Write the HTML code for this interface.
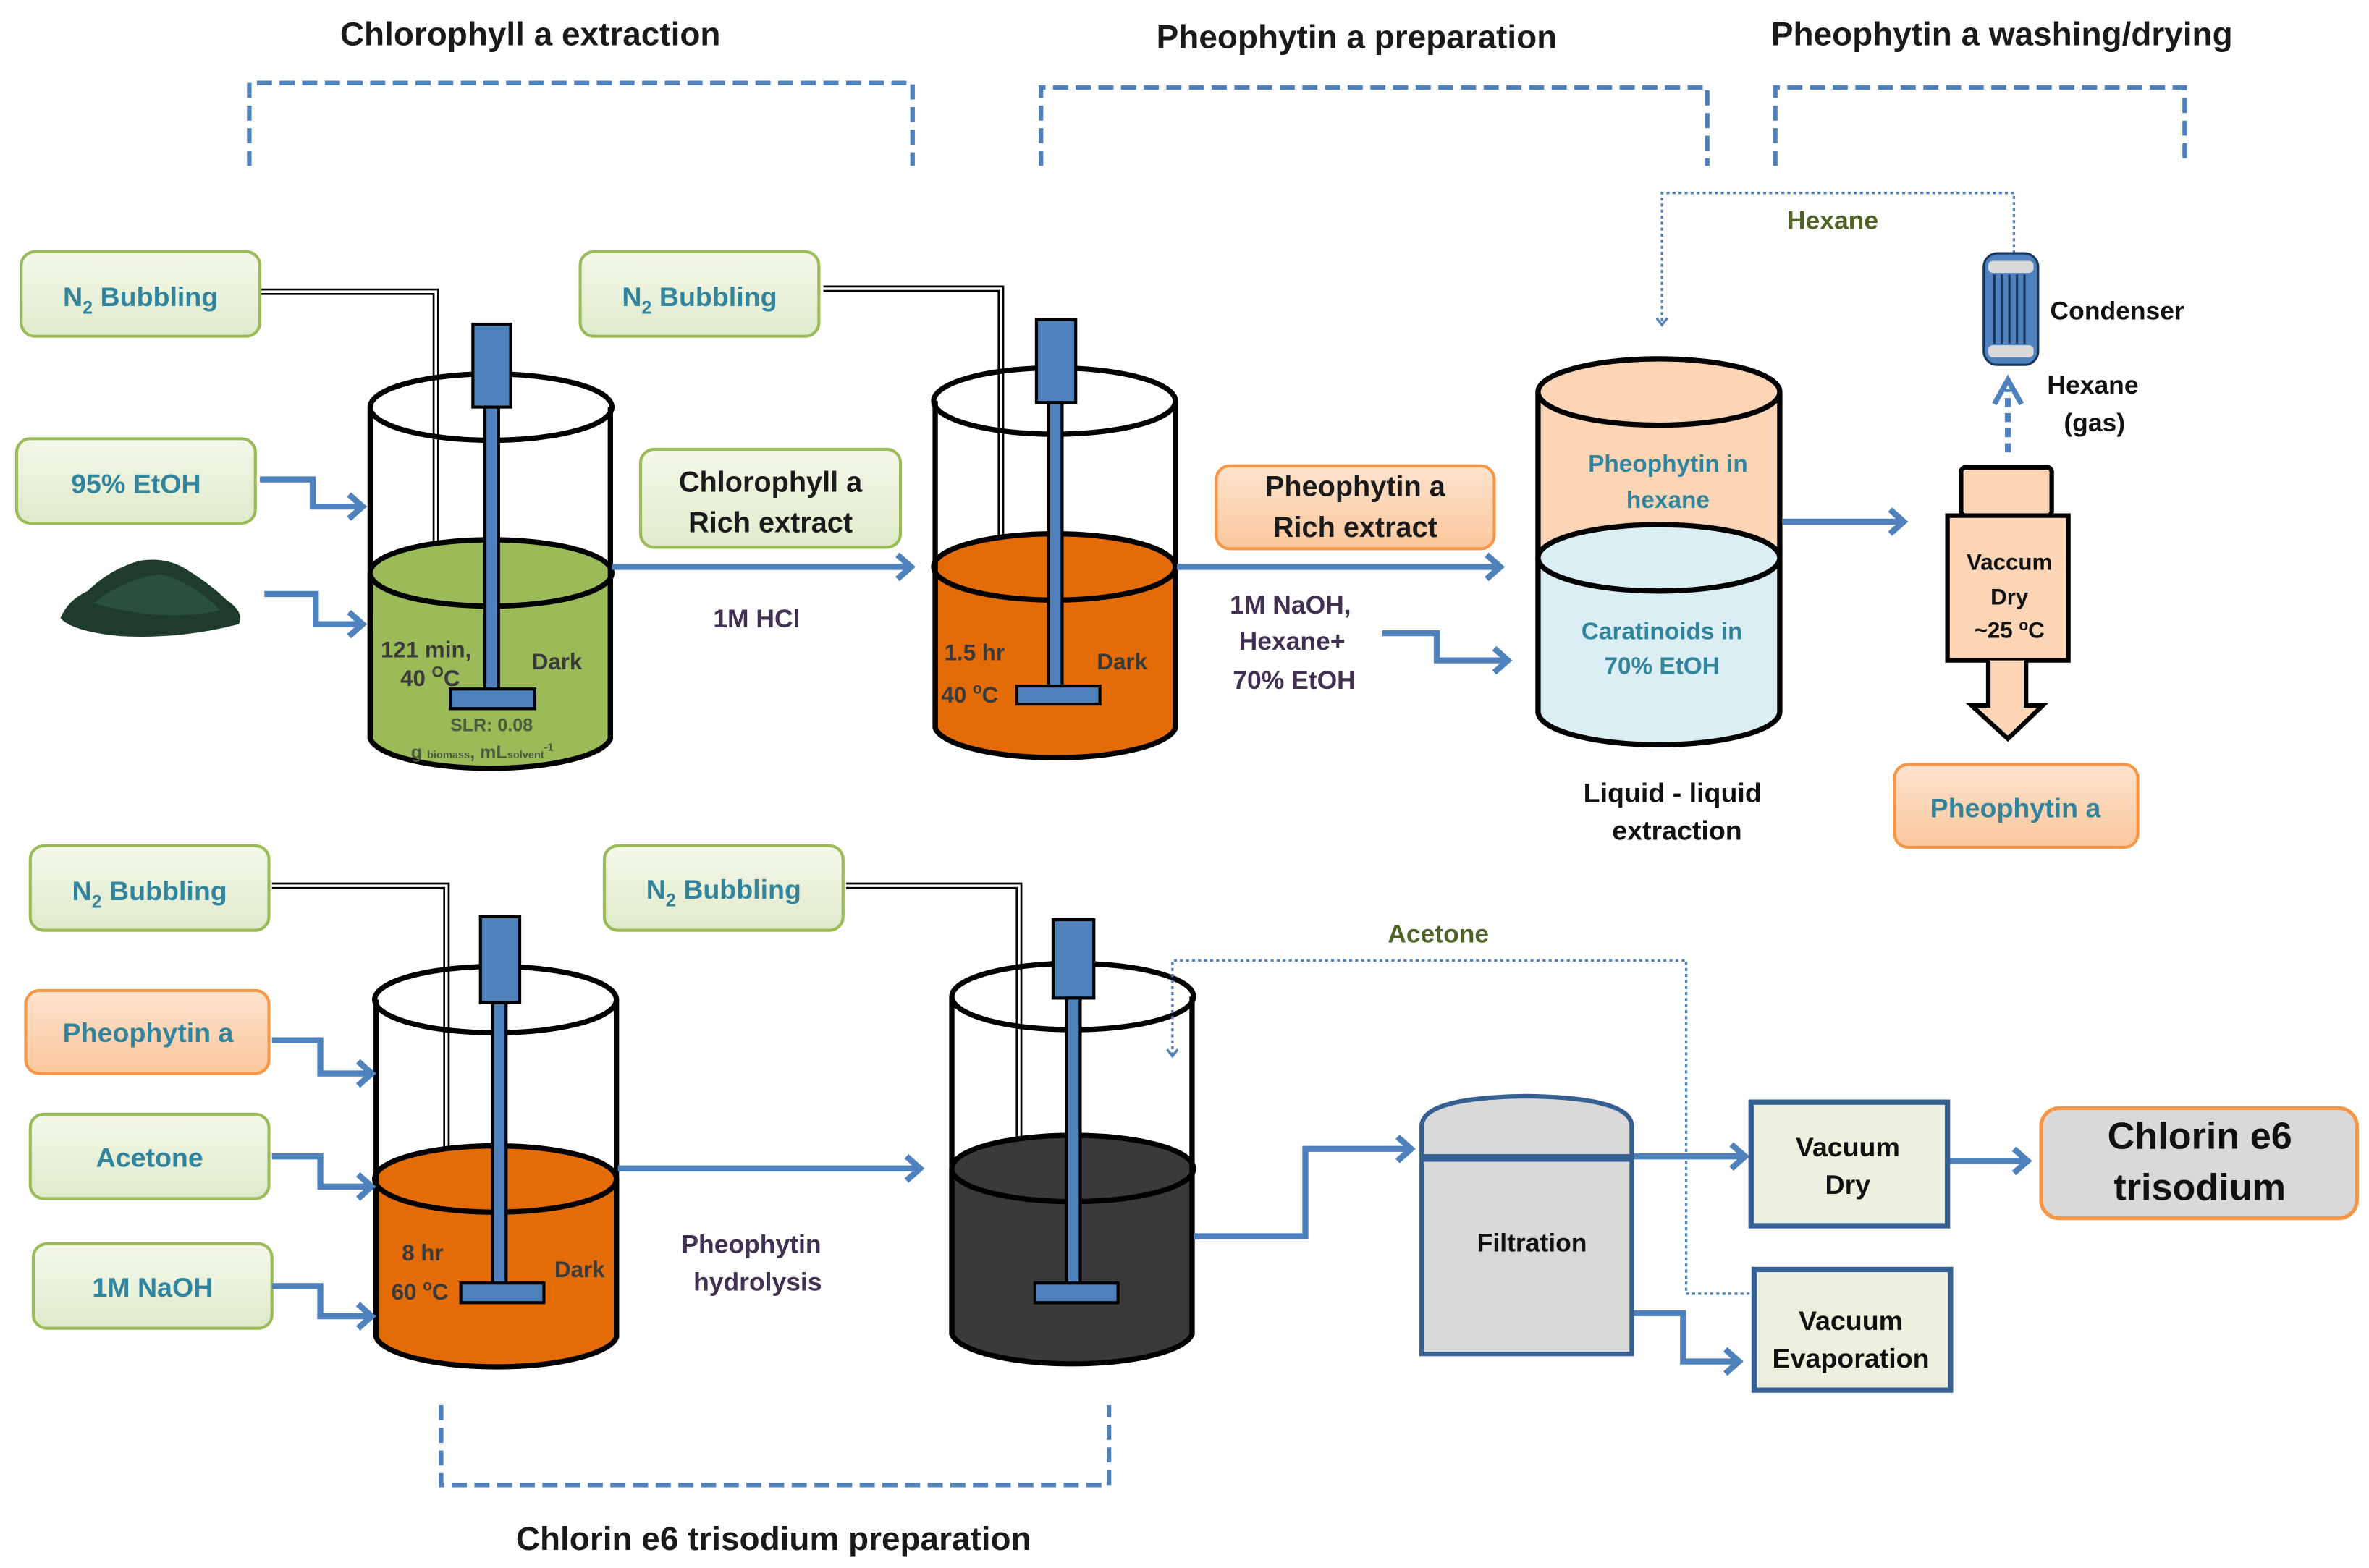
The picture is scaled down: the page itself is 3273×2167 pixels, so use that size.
<!DOCTYPE html>
<html><head><meta charset="utf-8"><style>
html,body{margin:0;padding:0;background:#fff;}
svg{display:block;}
text{font-family:"Liberation Sans",sans-serif;font-weight:bold;}
</style></head><body>
<svg width="3273" height="2167" viewBox="0 0 1568 1040" preserveAspectRatio="none" xmlns="http://www.w3.org/2000/svg">
<defs>
<linearGradient id="gg" x1="0" y1="0" x2="0" y2="1"><stop offset="0" stop-color="#f4f8ea"/><stop offset="1" stop-color="#dfeacb"/></linearGradient>
<linearGradient id="og" x1="0" y1="0" x2="0" y2="1"><stop offset="0" stop-color="#fde3cd"/><stop offset="1" stop-color="#fbc79c"/></linearGradient>
<marker id="ah" markerWidth="8" markerHeight="8" refX="5" refY="4" orient="auto" markerUnits="userSpaceOnUse" viewBox="0 0 8 8"><path d="M1,0.5 L5.5,4 L1,7.5" fill="none" stroke="#4f81bd" stroke-width="1.6"/></marker>
<marker id="ab" markerWidth="16" markerHeight="20" refX="12" refY="10" orient="auto" markerUnits="userSpaceOnUse"><path d="M3,2 L12,10 L3,18" fill="none" stroke="#4f81bd" stroke-width="4"/></marker>
</defs>

<g font-size="22" fill="#1a1a1a">
<text x="351" y="30" text-anchor="middle">Chlorophyll a extraction</text>
<text x="898" y="32" text-anchor="middle">Pheophytin a preparation</text>
<text x="1325" y="30" text-anchor="middle">Pheophytin a washing/drying</text>
<text x="512" y="1028" text-anchor="middle">Chlorin e6 trisodium preparation</text>
</g>
<g fill="none" stroke="#4f81bd" stroke-width="3" stroke-dasharray="10,5">
<path d="M165,110 V55 H604 V110"/>
<path d="M689,110 V58 H1130 V110"/>
<path d="M1175,110 V58 H1446 V110"/>
<path d="M292,932 V985 H734 V932"/>
</g>

<g stroke-width="2">
<rect x="14" y="167" width="158" height="56" rx="9" fill="url(#gg)" stroke="#9bbb59"/>
<rect x="11" y="291" width="158" height="56" rx="9" fill="url(#gg)" stroke="#9bbb59"/>
<rect x="384" y="167" width="158" height="56" rx="9" fill="url(#gg)" stroke="#9bbb59"/>
<rect x="424" y="298" width="172" height="65" rx="9" fill="url(#gg)" stroke="#9bbb59"/>
<rect x="805" y="309" width="184" height="55" rx="9" fill="url(#og)" stroke="#f79646"/>
<rect x="1254" y="507" width="161" height="55" rx="9" fill="url(#og)" stroke="#f79646"/>
<rect x="20" y="561" width="158" height="56" rx="9" fill="url(#gg)" stroke="#9bbb59"/>
<rect x="400" y="561" width="158" height="56" rx="9" fill="url(#gg)" stroke="#9bbb59"/>
<rect x="17" y="657" width="161" height="55" rx="9" fill="url(#og)" stroke="#f79646"/>
<rect x="20" y="739" width="158" height="56" rx="9" fill="url(#gg)" stroke="#9bbb59"/>
<rect x="22" y="825" width="158" height="56" rx="9" fill="url(#gg)" stroke="#9bbb59"/>
<rect x="1351" y="735" width="209" height="73" rx="12" fill="#d9d9d9" stroke="#f79646" stroke-width="2.5"/>
</g>
<g font-size="18" fill="#31849b" text-anchor="middle">
<text x="93" y="203">N<tspan font-size="12" dy="5">2</tspan><tspan dy="-5"> Bubbling</tspan></text>
<text x="90" y="327">95%  EtOH</text>
<text x="463" y="203">N<tspan font-size="12" dy="5">2</tspan><tspan dy="-5"> Bubbling</tspan></text>
<text x="99" y="597">N<tspan font-size="12" dy="5">2</tspan><tspan dy="-5"> Bubbling</tspan></text>
<text x="479" y="596">N<tspan font-size="12" dy="5">2</tspan><tspan dy="-5"> Bubbling</tspan></text>
<text x="98" y="691">Pheophytin a</text>
<text x="99" y="774">Acetone</text>
<text x="101" y="860">1M NaOH</text>
<text x="1334" y="542">Pheophytin a</text>
</g>
<g font-size="19" fill="#1a1a1a" text-anchor="middle">
<text x="510" y="326">Chlorophyll a</text>
<text x="510" y="353">Rich extract</text>
<text x="897" y="329">Pheophytin a</text>
<text x="897" y="356">Rich extract</text>
</g>
<text x="1456" y="762" font-size="25" text-anchor="middle" fill="#111">Chlorin e6</text>
<text x="1456" y="796" font-size="25" text-anchor="middle" fill="#111">trisodium</text>

<!-- biomass pile -->
<path d="M40,410 Q45,398 58,392 Q72,378 92,372 Q110,369 124,378 Q140,388 150,398 Q162,406 158,414 Q120,424 80,422 Q48,419 40,410Z" fill="#1e3b2c"/>
<path d="M62,400 Q85,382 108,381 Q130,388 146,405 Q105,413 62,400Z" fill="#2a4f3e"/>

<g fill="none" stroke="#000" stroke-width="1.3">
<path d="M173,192 H290 V395"/><path d="M173,195 H287 V395"/>
<path d="M545,190 H664 V375"/><path d="M545,193 H661 V375"/>
<path d="M180,586 H297 V800"/><path d="M180,589 H294 V800"/>
<path d="M560,586 H676 V780"/><path d="M560,589 H673 V780"/>
</g>

<g stroke="#000" stroke-width="3.5">
<path d="M245,380 A80,22 0 0 1 404,380 V490 A80,22 0 0 1 245,490Z" fill="#9bbb59"/>
<ellipse cx="325" cy="380" rx="80" ry="22" fill="#9bbb59"/>
<ellipse cx="325" cy="270" rx="80" ry="22" fill="none"/>
<path d="M245,270 V490 M404,270 V490" fill="none"/>
</g>
<g stroke="#000" stroke-width="3.5">
<path d="M619,376 A80,22 0 0 1 778,376 V483 A80,22 0 0 1 619,483Z" fill="#e36c09"/>
<ellipse cx="698" cy="376" rx="80" ry="22" fill="#e36c09"/>
<ellipse cx="698" cy="266" rx="80" ry="22" fill="none"/>
<path d="M619,266 V483 M778,266 V483" fill="none"/>
</g>
<g stroke="#000" stroke-width="3.5">
<path d="M249,782 A80,22 0 0 1 408,782 V887 A80,22 0 0 1 249,887Z" fill="#e36c09"/>
<ellipse cx="328" cy="782" rx="80" ry="22" fill="#e36c09"/>
<ellipse cx="328" cy="663" rx="80" ry="22" fill="none"/>
<path d="M249,663 V887 M408,663 V887" fill="none"/>
</g>
<g stroke="#000" stroke-width="3.5">
<path d="M630,775 A80,22 0 0 1 789,775 V885 A80,22 0 0 1 630,885Z" fill="#3a3a3a"/>
<ellipse cx="710" cy="775" rx="80" ry="22" fill="#3a3a3a"/>
<ellipse cx="710" cy="661" rx="80" ry="22" fill="none"/>
<path d="M630,661 V885 M789,661 V885" fill="none"/>
</g>
<g fill="#4f81bd" stroke="#000" stroke-width="2">
<rect x="313" y="215" width="25" height="55"/><rect x="321" y="270" width="9" height="190"/><rect x="298" y="457" width="56" height="13"/>
<rect x="686" y="212" width="26" height="55"/><rect x="694" y="267" width="9" height="190"/><rect x="673" y="455" width="55" height="12"/>
<rect x="318" y="608" width="26" height="57"/><rect x="326" y="665" width="9" height="188"/><rect x="305" y="851" width="55" height="13"/>
<rect x="697" y="610" width="27" height="52"/><rect x="706" y="662" width="9" height="190"/><rect x="685" y="851" width="55" height="13"/>
</g>
<g font-size="15" fill="#3a3a3a">
<text x="252" y="436">121 min,</text>
<text x="265" y="455">40 <tspan font-size="10" dy="-6">O</tspan><tspan dy="6">C</tspan></text>
<text x="352" y="444">Dark</text>
<text x="298" y="485" font-size="12" fill="#4a5a3a" font-weight="normal">SLR: 0.08</text>
<text x="272" y="503" font-size="12" fill="#4a5a3a" font-weight="normal">g <tspan font-size="7">biomass</tspan>, mL<tspan font-size="7">solvent</tspan><tspan font-size="7" dy="-5">-1</tspan></text>
<text x="625" y="438">1.5 hr</text>
<text x="623" y="466">40 <tspan font-size="10" dy="-6">o</tspan><tspan dy="6">C</tspan></text>
<text x="726" y="444">Dark</text>
<text x="266" y="836">8 hr</text>
<text x="259" y="862">60 <tspan font-size="10" dy="-6">o</tspan><tspan dy="6">C</tspan></text>
<text x="367" y="847">Dark</text>
</g>

<g fill="none" stroke="#4f81bd" stroke-width="4" stroke-linejoin="miter">
<path d="M172,318 H207 V336 H240" marker-end="url(#ab)"/>
<path d="M175,394 H209 V414 H240" marker-end="url(#ab)"/>
<path d="M405,376 H603" marker-end="url(#ab)"/>
<path d="M779,376 H993" marker-end="url(#ab)"/>
<path d="M915,420 H951 V438 H998" marker-end="url(#ab)"/>
<path d="M1180,346 H1260" marker-end="url(#ab)"/>
<path d="M180,690 H212 V712 H246" marker-end="url(#ab)"/>
<path d="M180,767 H212 V787 H246" marker-end="url(#ab)"/>
<path d="M180,853 H212 V873 H246" marker-end="url(#ab)"/>
<path d="M409,775 H609" marker-end="url(#ab)"/>
<path d="M790,820 H864 V762 H934" marker-end="url(#ab)"/>
<path d="M1081,767 H1155" marker-end="url(#ab)"/>
<path d="M1081,871 H1114 V903 H1151" marker-end="url(#ab)"/>
<path d="M1290,770 H1342" marker-end="url(#ab)"/>
</g>
<g font-size="17" fill="#403152">
<text x="472" y="416">1M HCl</text>
<text x="814" y="407">1M NaOH,</text>
<text x="820" y="431">Hexane+</text>
<text x="816" y="457">70% EtOH</text>
<text x="451" y="831">Pheophytin</text>
<text x="459" y="856">hydrolysis</text>
</g>

<g stroke="#000" stroke-width="3.5">
<path d="M1018,260 V370 A80,22 0 0 0 1178,370 V260" fill="#fbd5b5"/>
<path d="M1018,370 V472 A80,22 0 0 0 1178,472 V370" fill="#dbeef4"/>
<ellipse cx="1098" cy="370" rx="80" ry="22" fill="#dbeef4"/>
<ellipse cx="1098" cy="260" rx="80" ry="22" fill="#fbd5b5"/>
</g>
<g font-size="16" fill="#31849b" text-anchor="middle">
<text x="1104" y="313">Pheophytin in</text>
<text x="1104" y="337">hexane</text>
<text x="1100" y="424">Caratinoids in</text>
<text x="1100" y="447">70% EtOH</text>
</g>
<g font-size="18" fill="#111" text-anchor="middle">
<text x="1107" y="532">Liquid - liquid</text>
<text x="1110" y="557">extraction</text>
</g>

<path d="M1333,180 V128 H1100 V215" fill="none" stroke="#4f81bd" stroke-width="1.6" stroke-dasharray="2,2" marker-end="url(#ah)"/>
<text x="1213" y="152" font-size="17" fill="#4f6228" text-anchor="middle">Hexane</text>
<rect x="1313" y="168" width="36" height="74" rx="9" fill="#4f81bd" stroke="#17375e" stroke-width="1.5"/>
<rect x="1316" y="173" width="30" height="8" rx="3" fill="#d9d9d9"/>
<rect x="1316" y="229" width="30" height="8" rx="3" fill="#d9d9d9"/>
<g stroke="#17375e" stroke-width="1.5"><path d="M1320,182 V228 M1325,182 V228 M1330,182 V228 M1335,182 V228 M1340,182 V228"/></g>
<text x="1357" y="212" font-size="17" fill="#111">Condenser</text>
<text x="1355" y="261" font-size="17" fill="#111">Hexane</text>
<text x="1366" y="286" font-size="17" fill="#111">(gas)</text>
<path d="M1329,300 V258" fill="none" stroke="#4f81bd" stroke-width="4" stroke-dasharray="6,4"/>
<path d="M1320,268 L1329,252 L1338,268" fill="none" stroke="#4f81bd" stroke-width="3.5"/>
<g stroke="#000" stroke-width="3" fill="#fbd5b5">
<rect x="1298" y="310" width="60" height="32" rx="3"/>
<rect x="1289" y="342" width="80" height="96"/>
<path d="M1316,438 V468 H1305 L1329,490 L1352,468 H1341 V438"/>
</g>
<g font-size="15" fill="#111" text-anchor="middle">
<text x="1330" y="378">Vaccum</text>
<text x="1330" y="401">Dry</text>
<text x="1330" y="423">~25 <tspan font-size="10" dy="-5">o</tspan><tspan dy="5">C</tspan></text>
</g>

<path d="M1158,858 H1116 V637 H776 V700" fill="none" stroke="#4f81bd" stroke-width="1.6" stroke-dasharray="2,2" marker-end="url(#ah)"/>
<text x="952" y="625" font-size="17" fill="#4f6228" text-anchor="middle">Acetone</text>

<path d="M941,898 V747 Q941,728 1010,727 Q1080,728 1080,747 V898Z" fill="#d9d9d9" stroke="#376092" stroke-width="3"/>
<path d="M941,768 H1080" stroke="#376092" stroke-width="5"/>
<text x="1014" y="830" font-size="17" fill="#111" text-anchor="middle">Filtration</text>
<rect x="1159" y="731" width="130" height="82" fill="#ebf1de" stroke="#376092" stroke-width="3.5"/>
<rect x="1161" y="842" width="130" height="80" fill="#ebf1de" stroke="#376092" stroke-width="3.5"/>
<g font-size="18" fill="#111" text-anchor="middle">
<text x="1223" y="767">Vacuum</text>
<text x="1223" y="792">Dry</text>
<text x="1225" y="882">Vacuum</text>
<text x="1225" y="907">Evaporation</text>
</g>
</svg>
</body></html>
